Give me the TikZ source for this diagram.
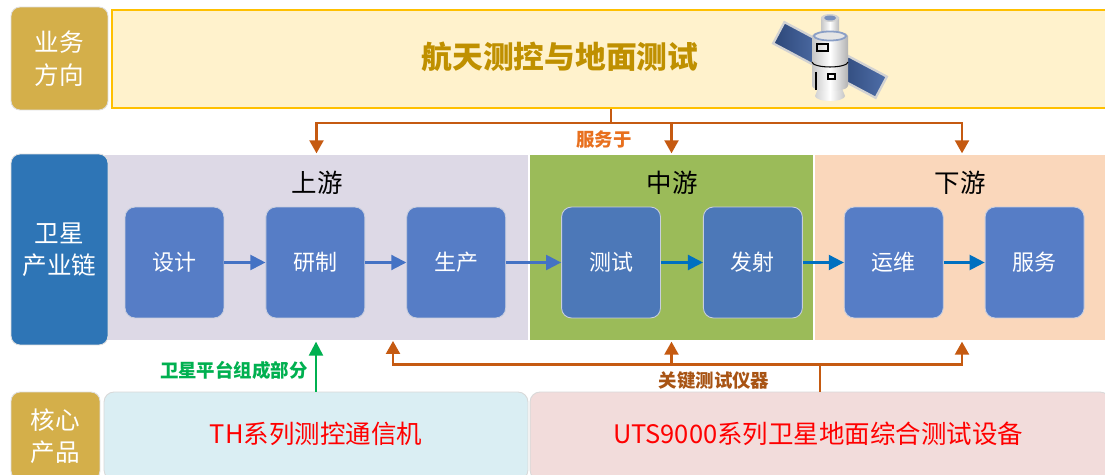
\documentclass[tikz,border=0pt]{standalone}
\usepackage{fontspec}
\setmainfont{Noto Sans CJK SC}
\usepackage{tikz}
\usetikzlibrary{positioning,arrows.meta,calc}
\definecolor{goldtag}{RGB}{212,175,74}
\definecolor{chainblue}{RGB}{46,117,182}
\definecolor{titlefill}{RGB}{255,242,204}
\definecolor{titleline}{RGB}{255,192,0}
\definecolor{titletext}{RGB}{191,144,0}
\definecolor{upfill}{RGB}{221,217,230}
\definecolor{midfill}{RGB}{155,187,89}
\definecolor{downfill}{RGB}{250,215,187}
\definecolor{boxblue}{RGB}{86,125,198}
\definecolor{boxdark}{RGB}{76,120,184}
\definecolor{boxedge}{RGB}{200,206,222}
\definecolor{flowblue}{RGB}{68,114,196}
\definecolor{flowdark}{RGB}{0,112,192}
\definecolor{svcline}{RGB}{197,90,17}
\definecolor{svctext}{RGB}{232,112,30}
\definecolor{keytext}{RGB}{168,84,20}
\definecolor{platgreen}{RGB}{0,176,80}
\definecolor{thfill}{RGB}{218,238,243}
\definecolor{utsfill}{RGB}{242,220,219}
\definecolor{panelblue}{RGB}{60,95,160}

\begin{document}
\begin{tikzpicture}[
  x=0.02cm, y=-0.02cm,
  every node/.style={inner sep=0pt},
  sidebox/.style={rounded corners=0.18cm, fill=goldtag, draw=gray!25,
    line width=0.5pt, text=white, align=center, minimum width=1.94cm,
    font=\fontsize{14}{18.5}\selectfont},
  zone/.style={draw=white, line width=0.8pt, minimum height=3.74cm},
  zonehead/.style={font=\fontsize{14.5}{17}\selectfont},
  stepbox/.style={rounded corners=0.2cm, fill=boxblue, draw=boxedge,
    line width=0.5pt, text=white, minimum width=1.98cm, minimum height=2.22cm,
    font=\fontsize{12.5}{15}\selectfont},
  flow/.style={draw=flowblue, line width=1.2pt,
    -{Triangle[length=0.3cm,width=0.3cm]}},
  svc/.style={draw=svcline, line width=1.3pt},
  svcarrow/.style={svc, -{Triangle[length=0.26cm,width=0.28cm]}},
  prodbox/.style={rounded corners=0.2cm, draw=gray!30, line width=0.5pt,
    minimum height=1.76cm},
  prodtext/.style={text=red, font=\fontsize{14.5}{17}\selectfont},
  tag/.style={font=\bfseries\fontsize{10.5}{13}\selectfont}
]
\clip (0,0) rectangle (1105,475);
\fill[white] (0,0) rectangle (1105,475);

% business direction
\node[sidebox, minimum height=2.06cm] (bizlabel) at (59.5,58.5) {业务\\方向};
\node[fill=titlefill, draw=titleline, line width=1.1pt,
  minimum width=19.96cm, minimum height=1.96cm] (bizbox) at (611,59) {};
\node[text=titletext, font=\bfseries\fontsize{17.5}{20}\selectfont]
  (bizname) at (560,57) {航天测控与地面测试};

% satellite
\begin{scope}[shift={(830,60)}]
  \foreach \s in {-1,1}{
    \begin{scope}[rotate=-28]
      \shade[left color=panelblue!75!black, right color=panelblue!90,
        draw=gray!35, line width=1.3pt]
        (\s*14,-12) rectangle (\s*58,12);
    \end{scope}
  }
  \shade[left color=gray!45, right color=gray!55, middle color=white]
    (-9,-42) rectangle (9,-26);
  \fill[gray!35] (0,-42) ellipse[x radius=9, y radius=4];
  \fill[panelblue!70] (0,-42) ellipse[x radius=6, y radius=2.5];
  \shade[left color=gray!35, right color=gray!45, middle color=white]
    (-11,26) -- (-15,36) arc[start angle=180, end angle=0, x radius=15, y radius=5]
    -- (11,26) -- cycle;
  \shade[left color=gray!45, right color=gray!60, middle color=white]
    (-18,-24) -- (-18,26) arc[start angle=180, end angle=0, x radius=18, y radius=5]
    -- (18,-24) arc[start angle=0, end angle=-180, x radius=18, y radius=5] -- cycle;
  \draw[panelblue!60, fill=gray!20, line width=1pt] (0,-24) ellipse[x radius=16, y radius=4.5];
  \draw[line width=0.6pt] (-18,2) arc[start angle=180, end angle=0, x radius=18, y radius=5];
  \draw[line width=0.6pt] (-13,-16) rectangle (-2,-9);
  \draw[line width=0.6pt] (-2,14) rectangle (5,19);
  \draw[line width=0.6pt] (-14,12) -- (-14,30);
\end{scope}

% value chain
\node[zone, fill=upfill, minimum width=8.5cm] (upzone) at (316.5,247.5) {};
\node[zone, fill=midfill, minimum width=5.7cm] (midzone) at (671.5,247.5) {};
\node[zone, fill=downfill, minimum width=5.92cm] (downzone) at (962,247.5) {};
\node[sidebox, fill=chainblue, minimum height=3.82cm] (chainlabel) at (59.5,249.5) {卫星\\产业链};

\node[zonehead] (uphead) at (317,183) {上游};
\node[zonehead] (midhead) at (672,183) {中游};
\node[zonehead] (downhead) at (960,183) {下游};

\node[stepbox] (design) at (174.5,262.5) {设计};
\node[stepbox, right=0.82cm of design] (develop) {研制};
\node[stepbox, right=0.82cm of develop] (produce) {生产};
\node[stepbox, fill=boxdark, right=1.1cm of produce] (testing) {测试};
\node[stepbox, fill=boxdark, right=0.84cm of testing] (launch) {发射};
\node[stepbox, right=0.82cm of launch] (operate) {运维};
\node[stepbox, right=0.82cm of operate] (service) {服务};

\draw[flow] (design) -- (develop);
\draw[flow] (develop) -- (produce);
\draw[flow] (produce) -- (testing);
\draw[flow, draw=flowdark] (testing) -- (launch);
\draw[flow, draw=flowdark] (launch) -- (operate);
\draw[flow, draw=flowdark] (operate) -- (service);

% serves
\coordinate (svcbus) at ($(bizbox.south)+(0,14)$);
\draw[svc] (bizbox.south) -- (svcbus);
\draw[svcarrow] (svcbus) -| (upzone.north);
\draw[svcarrow] (svcbus) -| (midzone.north);
\draw[svcarrow] (svcbus) -| (downzone.north);
\node[tag, text=svctext] (svclabel) at (604,140) {服务于};

% core products
\node[sidebox, minimum width=1.78cm, minimum height=1.76cm] (corelabel) at (55.5,436) {核心\\产品};
\node[prodbox, fill=thfill, minimum width=8.48cm] (thbox) at (316,436) {};
\node[prodbox, fill=utsfill, minimum width=11.6cm] (utsbox) at (820,436) {};
\node[prodtext] (thname) at (316,434) {TH系列测控通信机};
\node[prodtext] (utsname) at (818,434) {UTS9000系列卫星地面综合测试设备};

\draw[draw=platgreen, line width=1.3pt, -{Triangle[length=0.28cm,width=0.28cm]}]
  (thbox.north) -- (thbox.north |- upzone.south);
\node[tag, text=platgreen, anchor=east] (platlabel) at (308,370) {卫星平台组成部分};

\coordinate (keybus) at ($(utsbox.north)+(0,-27)$);
\coordinate (keyup) at (393,341);
\draw[svc] (utsbox.north) -- (keybus);
\draw[svcarrow] (keybus) -| (keyup);
\draw[svcarrow] (keybus) -| (midzone.south);
\draw[svcarrow] (keybus) -| (downzone.south);
\node[tag, text=keytext] (keylabel) at (714,381) {关键测试仪器};
\end{tikzpicture}
\end{document}
